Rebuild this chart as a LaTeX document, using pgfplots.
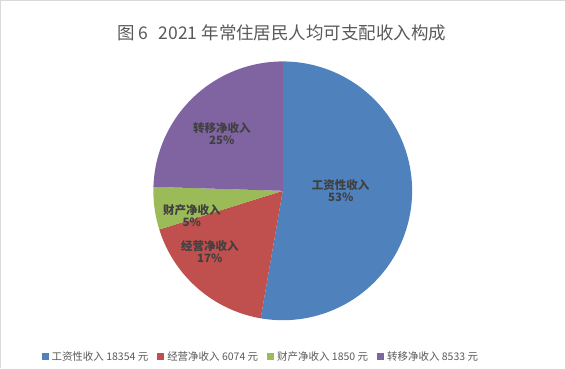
\documentclass[border=0pt]{standalone}
\usepackage{fontspec}
\usepackage{pgfplots}
\pgfplotsset{compat=1.18}
\setmainfont{Noto Sans CJK SC}
\definecolor{cblue}{HTML}{4F81BD}
\definecolor{cred}{HTML}{C0504D}
\definecolor{cgreen}{HTML}{9BBB59}
\definecolor{cpurple}{HTML}{8064A2}
\definecolor{ttl}{HTML}{595959}
\definecolor{lbl}{HTML}{404040}
% values (yuan)
\def\vA{18354}\def\vB{6074}\def\vC{1850}\def\vD{8533}
\pgfkeys{/pgf/fpu=true,/pgf/fpu/output format=fixed}
\pgfmathsetmacro{\tot}{\vA+\vB+\vC+\vD}
\pgfmathsetmacro{\aA}{90}
\pgfmathsetmacro{\aB}{\aA-360*\vA/\tot}
\pgfmathsetmacro{\aC}{\aB-360*\vB/\tot}
\pgfmathsetmacro{\aD}{\aC-360*\vC/\tot}
\pgfmathsetmacro{\aE}{\aD-360*\vD/\tot}
\pgfkeys{/pgf/fpu=false}
\def\cx{283}\def\cy{177}\def\rr{129.5}
\begin{document}
\begin{tikzpicture}
\begin{axis}[
  width=565pt, height=368pt, scale only axis,
  xmin=0, xmax=565, ymin=0, ymax=368,
  hide axis, clip=false,
  legend columns=4,
  legend style={at={(axis cs:261,11)}, anchor=center, draw=none, fill=none,
    font=\fontsize{10.5}{12}\selectfont\color{ttl},
    /tikz/every even column/.append style={column sep=7pt},
    /tikz/every odd column/.append style={column sep=1pt}},
  legend image code/.code={\fill[#1] (0pt,-3.5pt) rectangle (7pt,3.5pt);},
]
\addplot[fill=cblue, draw=none, domain=\aB:\aA, samples=120]
  ({\cx+\rr*cos(x)},{\cy+\rr*sin(x)}) -- (axis cs:\cx,\cy) -- cycle;
\addlegendentry{工资性收入 18354 元}
\addplot[fill=cred, draw=none, domain=\aC:\aB, samples=60]
  ({\cx+\rr*cos(x)},{\cy+\rr*sin(x)}) -- (axis cs:\cx,\cy) -- cycle;
\addlegendentry{经营净收入 6074 元}
\addplot[fill=cgreen, draw=none, domain=\aD:\aC, samples=30]
  ({\cx+\rr*cos(x)},{\cy+\rr*sin(x)}) -- (axis cs:\cx,\cy) -- cycle;
\addlegendentry{财产净收入 1850 元}
\addplot[fill=cpurple, draw=none, domain=\aE:\aD, samples=60]
  ({\cx+\rr*cos(x)},{\cy+\rr*sin(x)}) -- (axis cs:\cx,\cy) -- cycle;
\addlegendentry{转移净收入 8533 元}
\path (axis cs:0,0) rectangle (axis cs:565,368);
\draw[black!15, line width=1pt] (axis cs:0.5,0) -- (axis cs:0.5,367.5) -- (axis cs:565,367.5);
\node[text=ttl, font=\fontsize{17.5}{20}\selectfont] at (axis cs:282,335) {图 6\hspace{0.6em}2021 年常住居民人均可支配收入构成};
\begin{scope}[every node/.style={text=lbl, align=center, font=\fontsize{11.5}{12.5}\selectfont\bfseries}]
\node at (axis cs:341,177) {工资性收入\\53\%};
\node at (axis cs:222,234) {转移净收入\\25\%};
\node at (axis cs:192,152) {财产净收入\\5\%};
\node at (axis cs:210,116) {经营净收入\\17\%};
\end{scope}
\end{axis}
\end{tikzpicture}
\end{document}
